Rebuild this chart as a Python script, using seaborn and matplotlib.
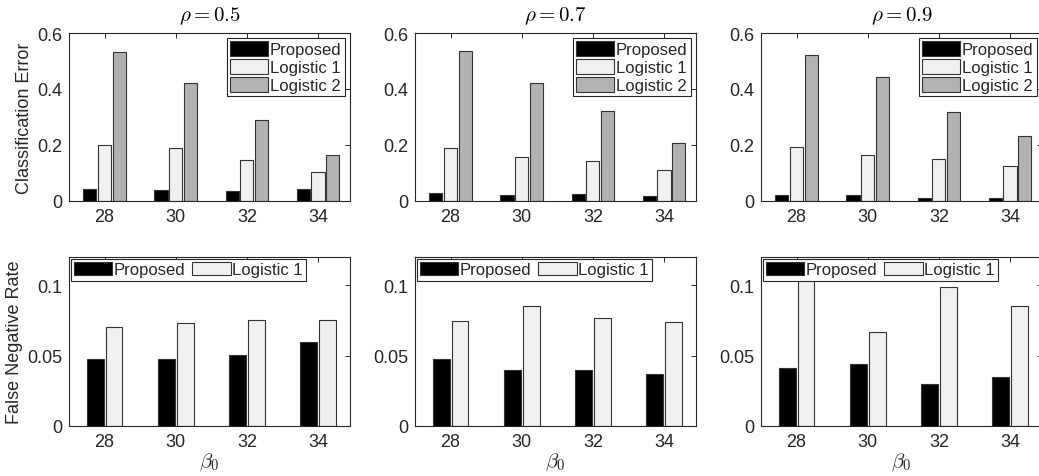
import numpy as np
import pandas as pd
import matplotlib
matplotlib.use("Agg")
import matplotlib.pyplot as plt
from matplotlib.ticker import FormatStrFormatter
import seaborn as sns

# ---------------- data ----------------
beta0 = ["28", "30", "32", "34"]
rhos = ["0.5", "0.7", "0.9"]

# Classification error (top row)
ce_proposed = {"0.5": [0.043, 0.040, 0.036, 0.042],
               "0.7": [0.030, 0.021, 0.026, 0.019],
               "0.9": [0.021, 0.020, 0.011, 0.010]}
ce_log1 = {"0.5": [0.200, 0.189, 0.147, 0.103],
           "0.7": [0.191, 0.156, 0.143, 0.110],
           "0.9": [0.192, 0.163, 0.149, 0.125]}
ce_log2 = {"0.5": [0.533, 0.421, 0.291, 0.164],
           "0.7": [0.535, 0.421, 0.323, 0.207],
           "0.9": [0.520, 0.443, 0.317, 0.232]}

# False negative rate (bottom row)
fnr_proposed = {"0.5": [0.0474, 0.0476, 0.0502, 0.0597],
                "0.7": [0.0476, 0.0398, 0.0398, 0.0370],
                "0.9": [0.0415, 0.0441, 0.0299, 0.0346]}
fnr_log1 = {"0.5": [0.0704, 0.0732, 0.0756, 0.0751],
            "0.7": [0.0749, 0.0853, 0.0770, 0.0735],
            "0.9": [0.1150, 0.0668, 0.0988, 0.0851]}

methods_top = ["Proposed", "Logistic 1", "Logistic 2"]
methods_bot = ["Proposed", "Logistic 1"]
colors = {"Proposed": "#000000", "Logistic 1": "#f0f0f0", "Logistic 2": "#b2b2b2"}

# ---------------- style ----------------
sns.set_theme(style="white")
plt.rcParams["font.family"] = ["Liberation Sans", "DejaVu Sans"]
plt.rcParams["mathtext.fontset"] = "cm"
TXT = "#262626"
FS = 13
LFS = 12

W, H = 1039, 477
fig = plt.figure(figsize=(W / 100, H / 100), dpi=100)

col_left = [69, 415, 761]
ax_w = 281
rows = [(34, 202), (258, 427)]


def make_ax(col, row):
    top, bot = rows[row]
    return fig.add_axes([col_left[col] / W, 1 - bot / H, ax_w / W, (bot - top) / H])


def style_ax(ax):
    for s in ax.spines.values():
        s.set_color(TXT)
        s.set_linewidth(0.8)
        s.set_visible(True)
    ax.tick_params(direction="in", top=True, right=True, length=3.5, width=0.7,
                   color=TXT, labelcolor=TXT, labelsize=FS, pad=5)
    ax.yaxis.set_major_formatter(FormatStrFormatter("%g"))


for c, rho in enumerate(rhos):
    # top row
    df = pd.DataFrame({
        "beta0": beta0 * 3,
        "value": ce_proposed[rho] + ce_log1[rho] + ce_log2[rho],
        "method": sum([[m] * 4 for m in methods_top], []),
    })
    ax = make_ax(c, 0)
    sns.barplot(data=df, x="beta0", y="value", hue="method", order=beta0,
                hue_order=methods_top, palette=colors, width=0.62, gap=0.1,
                edgecolor="#333333", linewidth=0.8, ax=ax, errorbar=None)
    ax.set_ylim(0, 0.6)
    ax.set_xlim(-0.5, 3.45)
    ax.set_yticks([0, 0.2, 0.4, 0.6])
    ax.set_xlabel("")
    ax.set_ylabel("Classification Error" if c == 0 else "", fontsize=FS, color=TXT,
                  labelpad=3)
    ax.set_title(r"$\rho = %s$" % rho, fontsize=15, color="black", pad=9)
    style_ax(ax)
    h, l = ax.get_legend_handles_labels()
    ax.legend(h, l, loc="upper right", fontsize=LFS, frameon=True, fancybox=False,
              framealpha=1, edgecolor=TXT, handlelength=2.3, handleheight=0.95,
              handletextpad=0.1, labelspacing=0.12, borderpad=0.2,
              borderaxespad=0.3).get_frame().set_linewidth(0.8)

    # bottom row
    df2 = pd.DataFrame({
        "beta0": beta0 * 2,
        "value": fnr_proposed[rho] + fnr_log1[rho],
        "method": sum([[m] * 4 for m in methods_bot], []),
    })
    ax2 = make_ax(c, 1)
    sns.barplot(data=df2, x="beta0", y="value", hue="method", order=beta0,
                hue_order=methods_bot, palette=colors, width=0.53, gap=0.1,
                edgecolor="#333333", linewidth=0.8, ax=ax2, errorbar=None)
    ax2.set_ylim(0, 0.12)
    ax2.set_xlim(-0.5, 3.45)
    ax2.set_yticks([0, 0.05, 0.1])
    ax2.set_xlabel(r"$\beta_0$", fontsize=15, color=TXT, labelpad=0)
    ax2.set_ylabel("False Negative Rate" if c == 0 else "", fontsize=FS, color=TXT,
                   labelpad=3)
    style_ax(ax2)
    h, l = ax2.get_legend_handles_labels()
    ax2.legend(h, l, loc="upper left", ncol=2, fontsize=LFS, frameon=True, fancybox=False,
               framealpha=1, edgecolor=TXT, handlelength=2.3, handleheight=0.85,
               handletextpad=0.1, columnspacing=0.4, borderpad=0.2,
               borderaxespad=0.1).get_frame().set_linewidth(0.8)

fig.savefig("out.png", dpi=100)
